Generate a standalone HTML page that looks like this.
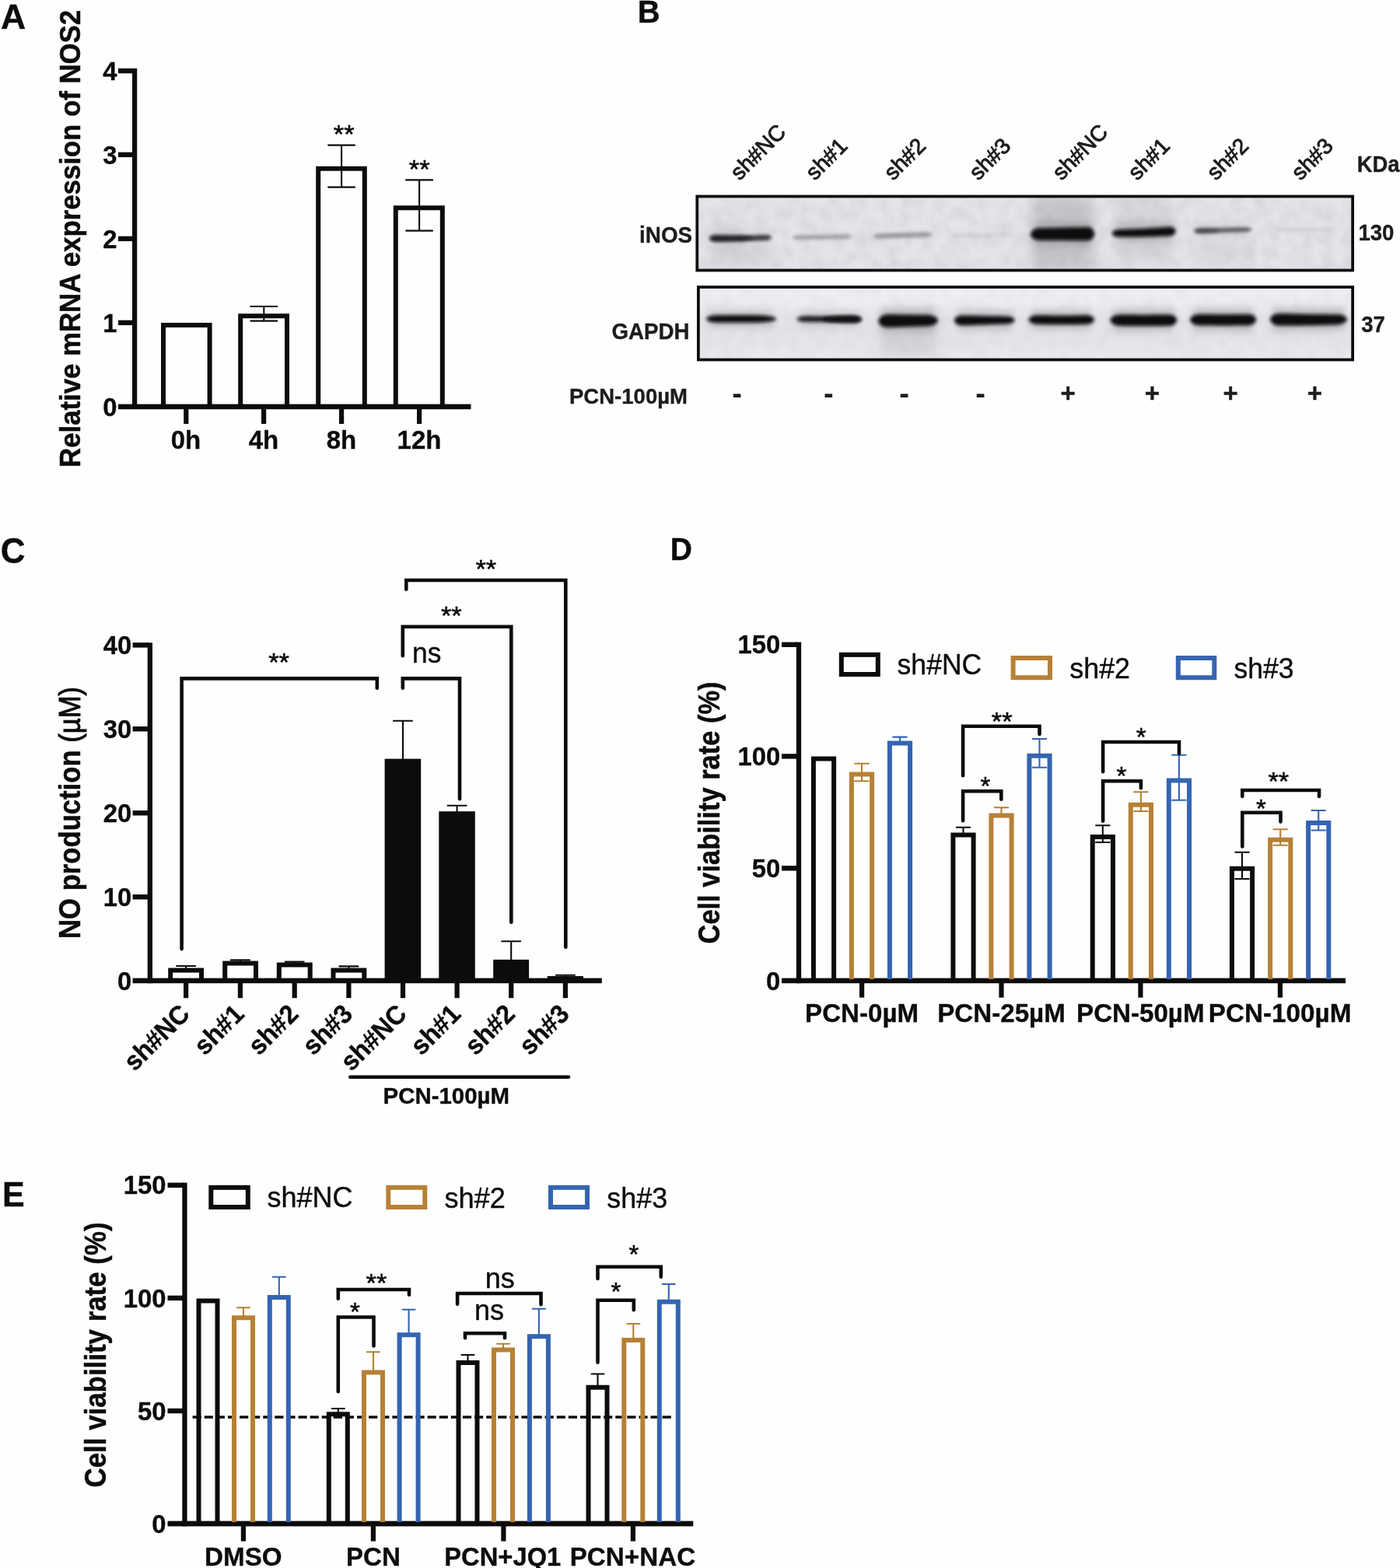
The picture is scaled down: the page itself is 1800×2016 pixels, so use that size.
<!DOCTYPE html>
<html lang="en">
<head>
<meta charset="utf-8">
<title>Figure: iNOS knockdown, NO production and cell viability</title>
<style>
html,body{margin:0;padding:0;background:#fefefe;}
body{width:1800px;height:2016px;overflow:hidden;}
svg{display:block;position:absolute;left:0;top:0;}
svg text{font-family:"Liberation Sans",sans-serif;}
</style>
</head>
<body>
<svg fill="#0d0c0b" width="1800" height="2016" viewBox="0 0 1800 2016" shape-rendering="geometricPrecision">
<rect x="0" y="0" width="1800" height="2016" fill="#fefefe"/>
<text font-size="45" font-weight="bold" textLength="32.2" lengthAdjust="spacingAndGlyphs" stroke="#0d0c0b" stroke-width="0.35" x="0.9" y="37">A</text>
<text font-size="40" font-weight="bold" stroke="#0d0c0b" stroke-width="0.35" x="819.8" y="29.2">B</text>
<text font-size="46.5" font-weight="bold" textLength="31.78" lengthAdjust="spacingAndGlyphs" stroke="#0d0c0b" stroke-width="0.35" x="0.8" y="724.3">C</text>
<text font-size="40.5" font-weight="bold" textLength="28.17" lengthAdjust="spacingAndGlyphs" stroke="#0d0c0b" stroke-width="0.35" x="861.8" y="720.3">D</text>
<text font-size="44.5" font-weight="bold" textLength="28.68" lengthAdjust="spacingAndGlyphs" stroke="#0d0c0b" stroke-width="0.35" x="3" y="1550.7">E</text>
<g id="panelA">
<rect x="170" y="88" width="6.25" height="438" fill="#0d0c0b"/>
<rect x="152" y="519.6" width="453.5" height="6.6" fill="#0d0c0b"/>
<rect x="152" y="87.9" width="20" height="6.4" fill="#0d0c0b"/>
<rect x="152" y="195.7" width="20" height="6.4" fill="#0d0c0b"/>
<rect x="152" y="303.7" width="20" height="6.4" fill="#0d0c0b"/>
<rect x="152" y="411.7" width="20" height="6.4" fill="#0d0c0b"/>
<rect x="236.2" y="525" width="6.2" height="20" fill="#0d0c0b"/>
<rect x="336" y="525" width="6.2" height="20" fill="#0d0c0b"/>
<rect x="436" y="525" width="6.2" height="20" fill="#0d0c0b"/>
<rect x="536" y="525" width="6.2" height="20" fill="#0d0c0b"/>
<text font-size="34" font-weight="bold" text-anchor="end" textLength="18.24" lengthAdjust="spacingAndGlyphs" stroke="#0d0c0b" stroke-width="0.35" x="150.6" y="102.7">4</text>
<text font-size="34" font-weight="bold" text-anchor="end" textLength="18.24" lengthAdjust="spacingAndGlyphs" stroke="#0d0c0b" stroke-width="0.35" x="150.6" y="210.5">3</text>
<text font-size="34" font-weight="bold" text-anchor="end" textLength="18.24" lengthAdjust="spacingAndGlyphs" stroke="#0d0c0b" stroke-width="0.35" x="150.6" y="318.5">2</text>
<text font-size="34" font-weight="bold" text-anchor="end" textLength="18.24" lengthAdjust="spacingAndGlyphs" stroke="#0d0c0b" stroke-width="0.35" x="150.6" y="426.5">1</text>
<text font-size="34" font-weight="bold" text-anchor="end" textLength="18.24" lengthAdjust="spacingAndGlyphs" stroke="#0d0c0b" stroke-width="0.35" x="150.6" y="534.5">0</text>
<text font-size="34" font-weight="bold" text-anchor="middle" textLength="38.51" lengthAdjust="spacingAndGlyphs" stroke="#0d0c0b" stroke-width="0.35" x="239" y="576.6">0h</text>
<text font-size="34" font-weight="bold" text-anchor="middle" textLength="38.51" lengthAdjust="spacingAndGlyphs" stroke="#0d0c0b" stroke-width="0.35" x="339" y="576.6">4h</text>
<text font-size="34" font-weight="bold" text-anchor="middle" textLength="38.51" lengthAdjust="spacingAndGlyphs" stroke="#0d0c0b" stroke-width="0.35" x="439" y="576.6">8h</text>
<text font-size="34" font-weight="bold" text-anchor="middle" textLength="56.87" lengthAdjust="spacingAndGlyphs" stroke="#0d0c0b" stroke-width="0.35" x="539" y="576.6">12h</text>
<text font-size="37" font-weight="bold" text-anchor="middle" textLength="588" lengthAdjust="spacingAndGlyphs" stroke="#0d0c0b" stroke-width="0.5" transform="translate(102.5 306.9) rotate(-90)">Relative mRNA expression of NOS2</text>
<path d="M210 521V418H269.6V521" fill="none" stroke="#0d0c0b" stroke-width="6"/>
<path d="M309.2 521V406.2H369V521" fill="none" stroke="#0d0c0b" stroke-width="6"/>
<path d="M409.2 521V216.7H468.8V521" fill="none" stroke="#0d0c0b" stroke-width="6"/>
<path d="M508.8 521V267.2H568.8V521" fill="none" stroke="#0d0c0b" stroke-width="6"/>
<path d="M322.3 394H356.3M339.3 394V412.6M322.3 412.6H356.3" fill="none" stroke="#0d0c0b" stroke-width="2.1" stroke-linecap="round"/>
<path d="M422.1 186.6H456.1M439.1 186.6V240.6M422.1 240.6H456.1" fill="none" stroke="#0d0c0b" stroke-width="2.1" stroke-linecap="round"/>
<path d="M522.1 231.4H556.1M539.1 231.4V296.6M522.1 296.6H556.1" fill="none" stroke="#0d0c0b" stroke-width="2.1" stroke-linecap="round"/>
<text font-size="33" text-anchor="middle" textLength="26.85" lengthAdjust="spacingAndGlyphs" stroke="#0d0c0b" stroke-width="0.5" x="442.2" y="183.57">**</text>
<text font-size="33" text-anchor="middle" textLength="26.85" lengthAdjust="spacingAndGlyphs" stroke="#0d0c0b" stroke-width="0.5" x="539.2" y="229.37">**</text>
</g>
<g id="panelB">
<defs>
<filter id="b1" filterUnits="userSpaceOnUse" x="880" y="240" width="880" height="240"><feGaussianBlur stdDeviation="2.2 2.0"/></filter>
<filter id="b2" filterUnits="userSpaceOnUse" x="880" y="240" width="880" height="240"><feGaussianBlur stdDeviation="2.6 2.3"/></filter>
<filter id="b4" filterUnits="userSpaceOnUse" x="880" y="240" width="880" height="240"><feGaussianBlur stdDeviation="4.5 5.5"/></filter>
<filter id="b3" filterUnits="userSpaceOnUse" x="880" y="240" width="880" height="240"><feGaussianBlur stdDeviation="8 10"/></filter>
<filter id="nz" filterUnits="userSpaceOnUse" x="890" y="245" width="860" height="225"><feTurbulence type="fractalNoise" baseFrequency="0.07 0.06" numOctaves="2" seed="11" result="t"/><feColorMatrix in="t" type="matrix" values="0 0 0 0 0.5  0 0 0 0 0.5  0 0 0 0 0.55  1.5 0 0 0 -0.5"/><feGaussianBlur stdDeviation="1.6"/></filter>
<linearGradient id="g2" x1="0" y1="0" x2="0" y2="1"><stop offset="0" stop-color="#f1f1f5"/><stop offset="0.22" stop-color="#eeeef2"/><stop offset="0.45" stop-color="#e3e3e8"/><stop offset="0.75" stop-color="#e6e6ea"/><stop offset="1" stop-color="#ebebef"/></linearGradient>
<clipPath id="c1"><rect x="897.6" y="254" width="840" height="92"/></clipPath>
<clipPath id="c2"><rect x="899.2" y="370.4" width="838.4" height="90.6"/></clipPath>
</defs>
<rect x="896" y="252" width="843.5" height="96" fill="#e4e4e9"/>
<g clip-path="url(#c1)">
<rect x="896" y="252" width="843.5" height="96" fill="#000" filter="url(#nz)" opacity="0.42"/>
<rect x="1327" y="250" width="78" height="100" fill="#9a9aa0" opacity="0.42" filter="url(#b3)"/>
<rect x="1436" y="256" width="72" height="80" fill="#a4a4aa" opacity="0.22" filter="url(#b3)"/>
<rect x="916" y="296" width="70" height="50" fill="#a4a4aa" opacity="0.2" filter="url(#b3)"/>
<rect x="1540" y="300" width="64" height="44" fill="#a4a4aa" opacity="0.12" filter="url(#b3)"/>
<rect x="1330" y="285.9" width="73" height="30" fill="#88888e" opacity="0.5" filter="url(#b4)"/>
<rect x="1435" y="286.5" width="72" height="24" fill="#88888e" opacity="0.42" filter="url(#b4)"/>
<rect x="917" y="299" width="39" height="14" fill="#88888e" opacity="0.3" filter="url(#b4)"/>
<rect x="1540" y="290" width="64" height="12" fill="#88888e" opacity="0.2" filter="url(#b4)"/>
<path d="M912.5 306.8L915.54 304.56L918.58 304.16L921.62 304.18L924.65 304.22L927.69 304.25L930.73 304.27L933.77 304.28L936.81 304.27L939.85 304.26L942.88 304.24L945.92 304.2L948.96 304.16L952 304.1L955.04 304.03L958.08 303.96L961.12 303.87L964.15 303.77L967.19 303.66L970.23 303.54L973.27 303.41L976.31 303.27L979.35 303.11L982.38 302.95L985.42 302.8L988.46 303.09L991.5 305.2L991.5 305.2L988.46 307.7L985.42 308.35L982.38 308.55L979.35 308.71L976.31 308.87L973.27 309.01L970.23 309.14L967.19 309.26L964.15 309.37L961.12 309.47L958.08 309.56L955.04 309.63L952 309.7L948.96 309.76L945.92 309.8L942.88 309.84L939.85 309.86L936.81 309.87L933.77 309.88L930.73 309.87L927.69 309.85L924.65 309.82L921.62 309.78L918.58 309.71L915.54 309.18L912.5 306.8Z" fill="#242426" opacity="0.82" filter="url(#b1)"/>
<path d="M911.5 306.2L913.67 303.53L915.85 302.69L918.02 302.26L920.19 302.1L922.37 302.12L924.54 302.14L926.71 302.16L928.88 302.2L931.06 302.24L933.23 302.29L935.4 302.36L937.58 302.43L939.75 302.51L941.92 302.6L944.1 302.7L946.27 302.82L948.44 302.95L950.62 303.09L952.79 303.26L954.96 303.44L957.13 303.65L959.31 303.89L961.48 304.18L963.65 304.53L965.83 305L968 306.2L968 306.2L965.83 307.4L963.65 307.87L961.48 308.22L959.31 308.51L957.13 308.75L954.96 308.96L952.79 309.14L950.62 309.31L948.44 309.45L946.27 309.58L944.1 309.7L941.92 309.8L939.75 309.89L937.58 309.97L935.4 310.04L933.23 310.11L931.06 310.16L928.88 310.2L926.71 310.24L924.54 310.26L922.37 310.28L920.19 310.3L918.02 310.14L915.85 309.71L913.67 308.87L911.5 306.2Z" fill="#111112" opacity="0.72" filter="url(#b1)"/>
<path d="M946 305.2L947.79 304.23L949.58 303.84L951.37 303.56L953.15 303.33L954.94 303.14L956.73 302.97L958.52 302.83L960.31 302.7L962.1 302.59L963.88 302.49L965.67 302.4L967.46 302.32L969.25 302.25L971.04 302.19L972.83 302.14L974.62 302.1L976.4 302.06L978.19 302.04L979.98 302.02L981.77 302.01L983.56 302L985.35 302.02L987.13 302.18L988.92 302.53L990.71 303.18L992.5 305.2L992.5 305.2L990.71 307.22L988.92 307.87L987.13 308.22L985.35 308.38L983.56 308.4L981.77 308.39L979.98 308.38L978.19 308.36L976.4 308.34L974.62 308.3L972.83 308.26L971.04 308.21L969.25 308.15L967.46 308.08L965.67 308L963.88 307.91L962.1 307.81L960.31 307.7L958.52 307.57L956.73 307.43L954.94 307.26L953.15 307.07L951.37 306.84L949.58 306.56L947.79 306.17L946 305.2Z" fill="#1c1c1e" opacity="0.42" filter="url(#b1)"/>
<path d="M1018.5 305.5L1021.44 303.08L1024.38 302.53L1027.33 302.44L1030.27 302.38L1033.21 302.33L1036.15 302.28L1039.1 302.22L1042.04 302.17L1044.98 302.12L1047.92 302.06L1050.87 302.01L1053.81 301.95L1056.75 301.9L1059.69 301.85L1062.63 301.79L1065.58 301.74L1068.52 301.68L1071.46 301.63L1074.4 301.58L1077.35 301.52L1080.29 301.47L1083.23 301.42L1086.17 301.36L1089.12 301.34L1092.06 301.79L1095 304.1L1095 304.1L1092.06 306.52L1089.12 307.07L1086.17 307.16L1083.23 307.22L1080.29 307.27L1077.35 307.32L1074.4 307.38L1071.46 307.43L1068.52 307.48L1065.58 307.54L1062.63 307.59L1059.69 307.65L1056.75 307.7L1053.81 307.75L1050.87 307.81L1047.92 307.86L1044.98 307.92L1042.04 307.97L1039.1 308.02L1036.15 308.08L1033.21 308.13L1030.27 308.18L1027.33 308.24L1024.38 308.26L1021.44 307.81L1018.5 305.5Z" fill="#5e5e64" opacity="0.5" filter="url(#b2)"/>
<path d="M1122.5 303.85L1125.44 301.23L1128.38 300.6L1131.33 300.46L1134.27 300.37L1137.21 300.27L1140.15 300.17L1143.1 300.08L1146.04 299.98L1148.98 299.88L1151.92 299.79L1154.87 299.69L1157.81 299.6L1160.75 299.5L1163.69 299.4L1166.63 299.31L1169.58 299.21L1172.52 299.12L1175.46 299.02L1178.4 298.92L1181.35 298.83L1184.29 298.73L1187.23 298.63L1190.17 298.54L1193.12 298.48L1196.06 298.92L1199 301.35L1199 301.35L1196.06 303.97L1193.12 304.6L1190.17 304.74L1187.23 304.83L1184.29 304.93L1181.35 305.03L1178.4 305.12L1175.46 305.22L1172.52 305.32L1169.58 305.41L1166.63 305.51L1163.69 305.6L1160.75 305.7L1157.81 305.8L1154.87 305.89L1151.92 305.99L1148.98 306.08L1146.04 306.18L1143.1 306.28L1140.15 306.37L1137.21 306.47L1134.27 306.57L1131.33 306.66L1128.38 306.72L1125.44 306.28L1122.5 303.85Z" fill="#5a5a60" opacity="0.55" filter="url(#b2)"/>
<path d="M1223 302.3L1226.15 300.42L1229.31 300.06L1232.46 300.05L1235.62 300.05L1238.77 300.05L1241.92 300.05L1245.08 300.05L1248.23 300.05L1251.38 300.05L1254.54 300.05L1257.69 300.05L1260.85 300.05L1264 300.05L1267.15 300.05L1270.31 300.05L1273.46 300.05L1276.62 300.05L1279.77 300.05L1282.92 300.05L1286.08 300.05L1289.23 300.05L1292.38 300.05L1295.54 300.05L1298.69 300.06L1301.85 300.42L1305 302.3L1305 302.3L1301.85 304.18L1298.69 304.54L1295.54 304.55L1292.38 304.55L1289.23 304.55L1286.08 304.55L1282.92 304.55L1279.77 304.55L1276.62 304.55L1273.46 304.55L1270.31 304.55L1267.15 304.55L1264 304.55L1260.85 304.55L1257.69 304.55L1254.54 304.55L1251.38 304.55L1248.23 304.55L1245.08 304.55L1241.92 304.55L1238.77 304.55L1235.62 304.55L1232.46 304.55L1229.31 304.54L1226.15 304.18L1223 302.3Z" fill="#77777c" opacity="0.17" filter="url(#b2)"/>
<path d="M1324.5 301.2L1327.69 295.97L1330.88 294.34L1334.08 293.53L1337.27 293.31L1340.46 293.24L1343.65 293.17L1346.85 293.1L1350.04 293.04L1353.23 292.97L1356.42 292.9L1359.62 292.83L1362.81 292.77L1366 292.7L1369.19 292.63L1372.38 292.57L1375.58 292.5L1378.77 292.43L1381.96 292.36L1385.15 292.3L1388.35 292.23L1391.54 292.16L1394.73 292.09L1397.92 292.03L1401.12 292.34L1404.31 293.95L1407.5 300.6L1407.5 300.6L1404.31 307.29L1401.12 308.96L1397.92 309.31L1394.73 309.29L1391.54 309.27L1388.35 309.25L1385.15 309.23L1381.96 309.21L1378.77 309.18L1375.58 309.16L1372.38 309.14L1369.19 309.12L1366 309.1L1362.81 309.08L1359.62 309.06L1356.42 309.04L1353.23 309.02L1350.04 308.99L1346.85 308.97L1343.65 308.95L1340.46 308.93L1337.27 308.91L1334.08 308.73L1330.88 307.97L1327.69 306.39L1324.5 301.2Z" fill="#0b0a0a" opacity="1" filter="url(#b1)"/>
<path d="M1429 300L1432.19 296.54L1435.38 295.53L1438.58 295.13L1441.77 295.04L1444.96 294.95L1448.15 294.85L1451.35 294.74L1454.54 294.62L1457.73 294.49L1460.92 294.36L1464.12 294.21L1467.31 294.06L1470.5 293.9L1473.69 293.73L1476.88 293.55L1480.08 293.37L1483.27 293.18L1486.46 292.97L1489.65 292.77L1492.85 292.55L1496.04 292.32L1499.23 292.09L1502.42 291.84L1505.62 291.71L1508.81 292.51L1512 297L1512 297L1508.81 301.92L1505.62 303.15L1502.42 303.42L1499.23 303.57L1496.04 303.7L1492.85 303.83L1489.65 303.95L1486.46 304.06L1483.27 304.17L1480.08 304.26L1476.88 304.35L1473.69 304.43L1470.5 304.5L1467.31 304.56L1464.12 304.62L1460.92 304.66L1457.73 304.7L1454.54 304.73L1451.35 304.75L1448.15 304.76L1444.96 304.77L1441.77 304.76L1438.58 304.75L1435.38 304.41L1432.19 303.44L1429 300Z" fill="#0b0a0a" opacity="1" filter="url(#b1)"/>
<path d="M1534.5 296.95L1537.38 294.69L1540.27 294.15L1543.15 294.03L1546.04 293.96L1548.92 293.88L1551.81 293.81L1554.69 293.74L1557.58 293.67L1560.46 293.59L1563.35 293.52L1566.23 293.45L1569.12 293.37L1572 293.3L1574.88 293.23L1577.77 293.15L1580.65 293.08L1583.54 293.01L1586.42 292.93L1589.31 292.86L1592.19 292.79L1595.08 292.72L1597.96 292.64L1600.85 292.57L1603.73 292.54L1606.62 292.94L1609.5 295.05L1609.5 295.05L1606.62 297.31L1603.73 297.85L1600.85 297.97L1597.96 298.04L1595.08 298.12L1592.19 298.19L1589.31 298.26L1586.42 298.33L1583.54 298.41L1580.65 298.48L1577.77 298.55L1574.88 298.63L1572 298.7L1569.12 298.77L1566.23 298.85L1563.35 298.92L1560.46 298.99L1557.58 299.07L1554.69 299.14L1551.81 299.21L1548.92 299.28L1546.04 299.36L1543.15 299.43L1540.27 299.46L1537.38 299.06L1534.5 296.95Z" fill="#2a2a2e" opacity="0.74" filter="url(#b1)"/>
<path d="M1536 296.9L1537.23 295.19L1538.46 294.59L1539.69 294.2L1540.92 293.95L1542.15 293.79L1543.38 293.71L1544.62 293.7L1545.85 293.7L1547.08 293.7L1548.31 293.7L1549.54 293.71L1550.77 293.73L1552 293.76L1553.23 293.81L1554.46 293.87L1555.69 293.95L1556.92 294.04L1558.15 294.14L1559.38 294.27L1560.62 294.42L1561.85 294.59L1563.08 294.8L1564.31 295.05L1565.54 295.36L1566.77 295.79L1568 296.9L1568 296.9L1566.77 298.01L1565.54 298.44L1564.31 298.75L1563.08 299L1561.85 299.21L1560.62 299.38L1559.38 299.53L1558.15 299.66L1556.92 299.76L1555.69 299.85L1554.46 299.93L1553.23 299.99L1552 300.04L1550.77 300.07L1549.54 300.09L1548.31 300.1L1547.08 300.1L1545.85 300.1L1544.62 300.1L1543.38 300.09L1542.15 300.01L1540.92 299.85L1539.69 299.6L1538.46 299.21L1537.23 298.61L1536 296.9Z" fill="#1a1a1c" opacity="0.4" filter="url(#b1)"/>
<path d="M1637.5 295.6L1640.52 293.75L1643.54 293.37L1646.56 293.35L1649.58 293.35L1652.6 293.35L1655.62 293.35L1658.63 293.35L1661.65 293.35L1664.67 293.35L1667.69 293.35L1670.71 293.35L1673.73 293.35L1676.75 293.35L1679.77 293.35L1682.79 293.35L1685.81 293.35L1688.83 293.35L1691.85 293.35L1694.87 293.35L1697.88 293.35L1700.9 293.35L1703.92 293.35L1706.94 293.35L1709.96 293.37L1712.98 293.75L1716 295.6L1716 295.6L1712.98 297.45L1709.96 297.83L1706.94 297.85L1703.92 297.85L1700.9 297.85L1697.88 297.85L1694.87 297.85L1691.85 297.85L1688.83 297.85L1685.81 297.85L1682.79 297.85L1679.77 297.85L1676.75 297.85L1673.73 297.85L1670.71 297.85L1667.69 297.85L1664.67 297.85L1661.65 297.85L1658.63 297.85L1655.62 297.85L1652.6 297.85L1649.58 297.85L1646.56 297.85L1643.54 297.83L1640.52 297.45L1637.5 295.6Z" fill="#77777c" opacity="0.16" filter="url(#b2)"/>
</g>
<rect x="896.28" y="252.5" width="842.85" height="95.05" fill="none" stroke="#0d0c0b" stroke-width="3.75"/>
<rect x="897.6" y="369" width="841.9" height="94" fill="url(#g2)"/>
<g clip-path="url(#c2)">
<rect x="897.6" y="369" width="841.9" height="94" fill="#000" filter="url(#nz)" opacity="0.2"/>
<rect x="1132" y="400" width="72" height="60" fill="#a8a8ae" opacity="0.3" filter="url(#b3)"/>
<rect x="912" y="400" width="82" height="20" fill="#88888e" opacity="0.4" filter="url(#b4)"/>
<rect x="1029" y="401.3" width="75" height="18" fill="#88888e" opacity="0.36" filter="url(#b4)"/>
<rect x="1134" y="398.4" width="68" height="28" fill="#88888e" opacity="0.5" filter="url(#b4)"/>
<rect x="1231" y="399.8" width="70" height="24" fill="#88888e" opacity="0.45" filter="url(#b4)"/>
<rect x="1326" y="399" width="77" height="24" fill="#88888e" opacity="0.45" filter="url(#b4)"/>
<rect x="1431" y="398" width="78" height="27" fill="#88888e" opacity="0.5" filter="url(#b4)"/>
<rect x="1534" y="397.5" width="77" height="27" fill="#88888e" opacity="0.5" filter="url(#b4)"/>
<rect x="1637" y="397.1" width="91" height="27" fill="#88888e" opacity="0.5" filter="url(#b4)"/>
<path d="M907.5 410L911 407.07L914.5 406.11L918 405.59L921.5 405.34L925 405.3L928.5 405.3L932 405.3L935.5 405.3L939 405.3L942.5 405.3L946 405.3L949.5 405.3L953 405.3L956.5 405.3L960 405.3L963.5 405.3L967 405.3L970.5 405.31L974 405.38L977.5 405.52L981 405.73L984.5 406.02L988 406.43L991.5 406.98L995 407.8L998.5 410L998.5 410L995 412.2L991.5 413.02L988 413.57L984.5 413.98L981 414.27L977.5 414.48L974 414.62L970.5 414.69L967 414.7L963.5 414.7L960 414.7L956.5 414.7L953 414.7L949.5 414.7L946 414.7L942.5 414.7L939 414.7L935.5 414.7L932 414.7L928.5 414.7L925 414.7L921.5 414.66L918 414.41L914.5 413.89L911 412.93L907.5 410Z" fill="#0b0a0a" opacity="1" filter="url(#b1)"/>
<path d="M1024 410.15L1027.25 407.86L1030.5 407.13L1033.75 406.75L1037 406.61L1040.25 406.61L1043.5 406.62L1046.75 406.63L1050 406.64L1053.25 406.65L1056.5 406.67L1059.75 406.68L1063 406.69L1066.25 406.7L1069.5 406.71L1072.75 406.72L1076 406.73L1079.25 406.75L1082.5 406.76L1085.75 406.77L1089 406.78L1092.25 406.79L1095.5 406.8L1098.75 406.88L1102 407.23L1105.25 407.97L1108.5 410.45L1108.5 410.45L1105.25 412.9L1102 413.63L1098.75 413.95L1095.5 414L1092.25 413.99L1089 413.98L1085.75 413.97L1082.5 413.96L1079.25 413.95L1076 413.93L1072.75 413.92L1069.5 413.91L1066.25 413.9L1063 413.89L1059.75 413.88L1056.5 413.87L1053.25 413.85L1050 413.84L1046.75 413.83L1043.5 413.82L1040.25 413.81L1037 413.79L1033.75 413.61L1030.5 413.21L1027.25 412.47L1024 410.15Z" fill="#0b0a0a" opacity="0.95" filter="url(#b1)"/>
<path d="M1058 410.4L1059.9 408.98L1061.81 408.42L1063.71 408.01L1065.62 407.69L1067.52 407.42L1069.42 407.18L1071.33 406.99L1073.23 406.81L1075.13 406.67L1077.04 406.54L1078.94 406.43L1080.85 406.34L1082.75 406.26L1084.65 406.2L1086.56 406.16L1088.46 406.12L1090.37 406.1L1092.27 406.1L1094.17 406.1L1096.08 406.1L1097.98 406.14L1099.88 406.31L1101.79 406.63L1103.69 407.15L1105.6 407.98L1107.5 410.4L1107.5 410.4L1105.6 412.82L1103.69 413.65L1101.79 414.17L1099.88 414.49L1097.98 414.66L1096.08 414.7L1094.17 414.7L1092.27 414.7L1090.37 414.7L1088.46 414.68L1086.56 414.64L1084.65 414.6L1082.75 414.54L1080.85 414.46L1078.94 414.37L1077.04 414.26L1075.13 414.13L1073.23 413.99L1071.33 413.81L1069.42 413.62L1067.52 413.38L1065.62 413.11L1063.71 412.79L1061.81 412.38L1059.9 411.82L1058 410.4Z" fill="#0b0a0a" opacity="0.9" filter="url(#b1)"/>
<path d="M1129 412.8L1131.97 407.4L1134.95 405.71L1137.92 404.83L1140.89 404.48L1143.87 404.48L1146.84 404.52L1149.81 404.56L1152.78 404.6L1155.76 404.64L1158.73 404.68L1161.7 404.72L1164.68 404.76L1167.65 404.8L1170.62 404.84L1173.6 404.88L1176.57 404.92L1179.54 404.96L1182.52 405L1185.49 405.04L1188.46 405.08L1191.43 405.12L1194.41 405.23L1197.38 405.66L1200.35 406.48L1203.33 407.87L1206.3 412L1206.3 412L1203.33 416.19L1200.35 417.65L1197.38 418.52L1194.41 419.01L1191.43 419.19L1188.46 419.29L1185.49 419.39L1182.52 419.5L1179.54 419.6L1176.57 419.7L1173.6 419.8L1170.62 419.9L1167.65 420L1164.68 420.1L1161.7 420.2L1158.73 420.3L1155.76 420.4L1152.78 420.5L1149.81 420.61L1146.84 420.71L1143.87 420.81L1140.89 420.88L1137.92 420.59L1134.95 419.77L1131.97 418.14L1129 412.8Z" fill="#0b0a0a" opacity="1" filter="url(#b1)"/>
<path d="M1226.5 412.05L1229.52 407.47L1232.54 406.17L1235.56 405.63L1238.58 405.6L1241.6 405.66L1244.62 405.73L1247.63 405.8L1250.65 405.87L1253.67 405.93L1256.69 406L1259.71 406.07L1262.73 406.13L1265.75 406.2L1268.77 406.27L1271.79 406.33L1274.81 406.4L1277.83 406.47L1280.85 406.53L1283.87 406.6L1286.88 406.67L1289.9 406.74L1292.92 406.8L1295.94 406.89L1298.96 407.32L1301.98 408.3L1305 411.55L1305 411.55L1301.98 414.84L1298.96 415.86L1295.94 416.33L1292.92 416.45L1289.9 416.56L1286.88 416.66L1283.87 416.77L1280.85 416.87L1277.83 416.98L1274.81 417.08L1271.79 417.19L1268.77 417.29L1265.75 417.4L1262.73 417.51L1259.71 417.61L1256.69 417.72L1253.67 417.82L1250.65 417.93L1247.63 418.03L1244.62 418.14L1241.6 418.24L1238.58 418.35L1235.56 418.35L1232.54 417.86L1229.52 416.6L1226.5 412.05Z" fill="#0b0a0a" opacity="1" filter="url(#b1)"/>
<path d="M1322 410.8L1325.29 407.17L1328.58 406.08L1331.87 405.54L1335.15 405.38L1338.44 405.43L1341.73 405.5L1345.02 405.55L1348.31 405.6L1351.6 405.63L1354.88 405.66L1358.17 405.68L1361.46 405.7L1364.75 405.7L1368.04 405.7L1371.33 405.68L1374.62 405.66L1377.9 405.63L1381.19 405.6L1384.48 405.55L1387.77 405.5L1391.06 405.43L1394.35 405.36L1397.63 405.38L1400.92 405.82L1404.21 406.91L1407.5 410.8L1407.5 410.8L1404.21 414.89L1400.92 416.17L1397.63 416.79L1394.35 416.96L1391.06 417.03L1387.77 417.1L1384.48 417.15L1381.19 417.2L1377.9 417.23L1374.62 417.26L1371.33 417.28L1368.04 417.3L1364.75 417.3L1361.46 417.3L1358.17 417.28L1354.88 417.26L1351.6 417.23L1348.31 417.2L1345.02 417.15L1341.73 417.1L1338.44 417.03L1335.15 416.95L1331.87 416.63L1328.58 415.92L1325.29 414.64L1322 410.8Z" fill="#0b0a0a" opacity="1" filter="url(#b1)"/>
<path d="M1427 411.5L1430.33 406.98L1433.66 405.6L1436.99 404.9L1440.32 404.67L1443.65 404.71L1446.98 404.76L1450.32 404.79L1453.65 404.83L1456.98 404.85L1460.31 404.87L1463.64 404.89L1466.97 404.9L1470.3 404.9L1473.63 404.9L1476.96 404.89L1480.29 404.87L1483.62 404.85L1486.95 404.83L1490.28 404.79L1493.62 404.76L1496.95 404.71L1500.28 404.66L1503.61 404.63L1506.94 405.12L1510.27 406.48L1513.6 411.5L1513.6 411.5L1510.27 416.66L1506.94 418.17L1503.61 418.77L1500.28 418.86L1496.95 418.91L1493.62 418.96L1490.28 418.99L1486.95 419.03L1483.62 419.05L1480.29 419.07L1476.96 419.09L1473.63 419.1L1470.3 419.1L1466.97 419.1L1463.64 419.09L1460.31 419.07L1456.98 419.05L1453.65 419.03L1450.32 418.99L1446.98 418.96L1443.65 418.91L1440.32 418.85L1436.99 418.51L1433.66 417.69L1430.33 416.17L1427 411.5Z" fill="#0b0a0a" opacity="1" filter="url(#b1)"/>
<path d="M1529.5 411L1532.81 406.39L1536.12 405.01L1539.43 404.36L1542.75 404.21L1546.06 404.25L1549.37 404.28L1552.68 404.31L1555.99 404.34L1559.3 404.36L1562.62 404.38L1565.93 404.39L1569.24 404.4L1572.55 404.4L1575.86 404.4L1579.17 404.39L1582.48 404.38L1585.8 404.36L1589.11 404.34L1592.42 404.31L1595.73 404.28L1599.04 404.25L1602.35 404.21L1605.67 404.2L1608.98 404.69L1612.29 406.05L1615.6 411L1615.6 411L1612.29 416.07L1608.98 417.54L1605.67 418.13L1602.35 418.21L1599.04 418.25L1595.73 418.28L1592.42 418.31L1589.11 418.34L1585.8 418.36L1582.48 418.38L1579.17 418.39L1575.86 418.4L1572.55 418.4L1569.24 418.4L1565.93 418.39L1562.62 418.38L1559.3 418.36L1555.99 418.34L1552.68 418.31L1549.37 418.28L1546.06 418.25L1542.75 418.21L1539.43 417.97L1536.12 417.21L1532.81 415.73L1529.5 411Z" fill="#0b0a0a" opacity="1" filter="url(#b1)"/>
<path d="M1632.5 410.6L1636.34 405.09L1640.18 403.63L1644.03 403.14L1647.87 403.22L1651.71 403.35L1655.55 403.47L1659.4 403.58L1663.24 403.68L1667.08 403.78L1670.92 403.87L1674.77 403.95L1678.61 404.03L1682.45 404.1L1686.29 404.16L1690.13 404.22L1693.98 404.26L1697.82 404.31L1701.66 404.34L1705.5 404.37L1709.35 404.38L1713.19 404.4L1717.03 404.4L1720.87 404.5L1724.72 405.08L1728.56 406.34L1732.4 410.6L1732.4 410.6L1728.56 415.03L1724.72 416.46L1720.87 417.19L1717.03 417.42L1713.19 417.55L1709.35 417.67L1705.5 417.78L1701.66 417.88L1697.82 417.98L1693.98 418.07L1690.13 418.15L1686.29 418.23L1682.45 418.3L1678.61 418.36L1674.77 418.42L1670.92 418.46L1667.08 418.51L1663.24 418.54L1659.4 418.57L1655.55 418.58L1651.71 418.6L1647.87 418.6L1644.03 418.55L1640.18 417.91L1636.34 416.29L1632.5 410.6Z" fill="#0b0a0a" opacity="1" filter="url(#b1)"/>
</g>
<rect x="897.88" y="369.12" width="841.25" height="93.4" fill="none" stroke="#0d0c0b" stroke-width="3.75"/>
<text font-size="28.4" fill="#1d1c1b" stroke="#1d1c1b" stroke-width="0.95" transform="translate(950.7 232.9) rotate(-45)">sh#NC</text>
<text font-size="28.4" fill="#1d1c1b" stroke="#1d1c1b" stroke-width="0.95" transform="translate(1047.6 232.9) rotate(-45)">sh#1</text>
<text font-size="28.4" fill="#1d1c1b" stroke="#1d1c1b" stroke-width="0.95" transform="translate(1148.3 232.9) rotate(-45)">sh#2</text>
<text font-size="28.4" fill="#1d1c1b" stroke="#1d1c1b" stroke-width="0.95" transform="translate(1257.7 232.9) rotate(-45)">sh#3</text>
<text font-size="28.4" fill="#1d1c1b" stroke="#1d1c1b" stroke-width="0.95" transform="translate(1364.7 232.9) rotate(-45)">sh#NC</text>
<text font-size="28.4" fill="#1d1c1b" stroke="#1d1c1b" stroke-width="0.95" transform="translate(1462.1 232.9) rotate(-45)">sh#1</text>
<text font-size="28.4" fill="#1d1c1b" stroke="#1d1c1b" stroke-width="0.95" transform="translate(1563.3 232.9) rotate(-45)">sh#2</text>
<text font-size="28.4" fill="#1d1c1b" stroke="#1d1c1b" stroke-width="0.95" transform="translate(1672.1 232.9) rotate(-45)">sh#3</text>
<text font-size="29" font-weight="bold" textLength="54.81" lengthAdjust="spacingAndGlyphs" fill="#1d1c1b" stroke="#1d1c1b" stroke-width="0.35" x="1744.8" y="220.6">KDa</text>
<text font-size="29.5" font-weight="bold" textLength="46.05" lengthAdjust="spacingAndGlyphs" fill="#1d1c1b" stroke="#1d1c1b" stroke-width="0.35" x="1746.4" y="308.7">130</text>
<text font-size="29.5" font-weight="bold" textLength="30.7" lengthAdjust="spacingAndGlyphs" fill="#1d1c1b" stroke="#1d1c1b" stroke-width="0.35" x="1750.2" y="426.7">37</text>
<text font-size="29" font-weight="bold" text-anchor="end" textLength="68" lengthAdjust="spacingAndGlyphs" fill="#1d1c1b" stroke="#1d1c1b" stroke-width="0.35" x="890.1" y="312">iNOS</text>
<text font-size="29" font-weight="bold" text-anchor="end" textLength="100" lengthAdjust="spacingAndGlyphs" fill="#1d1c1b" stroke="#1d1c1b" stroke-width="0.35" x="886.4" y="436">GAPDH</text>
<text font-size="28.5" font-weight="bold" text-anchor="end" textLength="152" lengthAdjust="spacingAndGlyphs" fill="#1d1c1b" stroke="#1d1c1b" stroke-width="0.35" x="884" y="518.6">PCN-100µM</text>
<text font-size="38" font-weight="bold" text-anchor="middle" fill="#1d1c1b" x="947.7" y="519.2">-</text>
<text font-size="38" font-weight="bold" text-anchor="middle" fill="#1d1c1b" x="1065.4" y="519.2">-</text>
<text font-size="38" font-weight="bold" text-anchor="middle" fill="#1d1c1b" x="1162.5" y="519.2">-</text>
<text font-size="38" font-weight="bold" text-anchor="middle" fill="#1d1c1b" x="1260.6" y="519.2">-</text>
<text font-size="33" font-weight="bold" text-anchor="middle" fill="#1d1c1b" stroke="#1d1c1b" stroke-width="0.4" x="1373.1" y="516.7">+</text>
<text font-size="33" font-weight="bold" text-anchor="middle" fill="#1d1c1b" stroke="#1d1c1b" stroke-width="0.4" x="1481.5" y="516.7">+</text>
<text font-size="33" font-weight="bold" text-anchor="middle" fill="#1d1c1b" stroke="#1d1c1b" stroke-width="0.4" x="1582.1" y="516.7">+</text>
<text font-size="33" font-weight="bold" text-anchor="middle" fill="#1d1c1b" stroke="#1d1c1b" stroke-width="0.4" x="1690.4" y="516.7">+</text>
</g>
<g id="panelC">
<rect x="189.7" y="826.3" width="6.3" height="437.9" fill="#0d0c0b"/>
<rect x="170.6" y="1257.6" width="603.2" height="6.6" fill="#0d0c0b"/>
<rect x="170.6" y="826.2" width="20.4" height="6.4" fill="#0d0c0b"/>
<rect x="170.6" y="934" width="20.4" height="6.4" fill="#0d0c0b"/>
<rect x="170.6" y="1042.1" width="20.4" height="6.4" fill="#0d0c0b"/>
<rect x="170.6" y="1150" width="20.4" height="6.4" fill="#0d0c0b"/>
<rect x="236" y="1263" width="6.2" height="20.2" fill="#0d0c0b"/>
<rect x="305.8" y="1263" width="6.2" height="20.2" fill="#0d0c0b"/>
<rect x="375.6" y="1263" width="6.2" height="20.2" fill="#0d0c0b"/>
<rect x="445.3" y="1263" width="6.2" height="20.2" fill="#0d0c0b"/>
<rect x="514.9" y="1263" width="6.2" height="20.2" fill="#0d0c0b"/>
<rect x="584.5" y="1263" width="6.2" height="20.2" fill="#0d0c0b"/>
<rect x="654.1" y="1263" width="6.2" height="20.2" fill="#0d0c0b"/>
<rect x="723.8" y="1263" width="6.2" height="20.2" fill="#0d0c0b"/>
<text font-size="34" font-weight="bold" text-anchor="end" textLength="36.48" lengthAdjust="spacingAndGlyphs" stroke="#0d0c0b" stroke-width="0.35" x="169.2" y="841">40</text>
<text font-size="34" font-weight="bold" text-anchor="end" textLength="36.48" lengthAdjust="spacingAndGlyphs" stroke="#0d0c0b" stroke-width="0.35" x="169.2" y="948.8">30</text>
<text font-size="34" font-weight="bold" text-anchor="end" textLength="36.48" lengthAdjust="spacingAndGlyphs" stroke="#0d0c0b" stroke-width="0.35" x="169.2" y="1056.9">20</text>
<text font-size="34" font-weight="bold" text-anchor="end" textLength="36.48" lengthAdjust="spacingAndGlyphs" stroke="#0d0c0b" stroke-width="0.35" x="169.2" y="1164.8">10</text>
<text font-size="34" font-weight="bold" text-anchor="end" textLength="18.24" lengthAdjust="spacingAndGlyphs" stroke="#0d0c0b" stroke-width="0.35" x="169.2" y="1272.6">0</text>
<text transform="translate(102.5 1044.9) rotate(-90)" font-size="38" font-weight="bold" text-anchor="middle" textLength="324" lengthAdjust="spacingAndGlyphs" stroke="#0d0c0b" stroke-width="0.5">NO production <tspan font-weight="normal" stroke-width="1">(µM)</tspan></text>
<path d="M219.2 1259V1247.4H259V1259" fill="none" stroke="#0d0c0b" stroke-width="6"/>
<path d="M289.2 1259V1238.4H329V1259" fill="none" stroke="#0d0c0b" stroke-width="6"/>
<path d="M358.8 1259V1240.4H398.7V1259" fill="none" stroke="#0d0c0b" stroke-width="6"/>
<path d="M428.5 1259V1247.4H468.3V1259" fill="none" stroke="#0d0c0b" stroke-width="6"/>
<rect x="494.6" y="975.6" width="46.6" height="283.4" fill="#0d0c0b"/>
<rect x="564.3" y="1043.2" width="46.5" height="215.8" fill="#0d0c0b"/>
<rect x="634.2" y="1233.8" width="45.9" height="25.2" fill="#0d0c0b"/>
<rect x="703.8" y="1255" width="46.2" height="4" fill="#0d0c0b"/>
<path d="M227.1 1242H251.1M239.1 1242V1246" fill="none" stroke="#0d0c0b" stroke-width="2.1" stroke-linecap="round"/>
<path d="M296.9 1234.4H320.9M308.9 1234.4V1238" fill="none" stroke="#0d0c0b" stroke-width="2.1" stroke-linecap="round"/>
<path d="M366.7 1236.6H390.7M378.7 1236.6V1240" fill="none" stroke="#0d0c0b" stroke-width="2.1" stroke-linecap="round"/>
<path d="M436.4 1242.4H460.4M448.4 1242.4V1246" fill="none" stroke="#0d0c0b" stroke-width="2.1" stroke-linecap="round"/>
<path d="M506 926.8H530M518 926.8V976" fill="none" stroke="#0d0c0b" stroke-width="2.1" stroke-linecap="round"/>
<path d="M575.6 1035.8H599.6M587.6 1035.8V1044" fill="none" stroke="#0d0c0b" stroke-width="2.1" stroke-linecap="round"/>
<path d="M645.2 1210.3H669.2M657.2 1210.3V1234" fill="none" stroke="#0d0c0b" stroke-width="2.1" stroke-linecap="round"/>
<path d="M714.9 1253.8H738.9M726.9 1253.8V1256" fill="none" stroke="#0d0c0b" stroke-width="2.1" stroke-linecap="round"/>
<path d="M233.6 1220.1V872.4H484.8V884.7" fill="none" stroke="#0d0c0b" stroke-width="4.6" stroke-linecap="round" stroke-linejoin="miter"/>
<path d="M517.8 884.7V872.4H591V1027.2" fill="none" stroke="#0d0c0b" stroke-width="4.6" stroke-linecap="round" stroke-linejoin="miter"/>
<path d="M517.8 843.2V805.8H657.3V1185.7" fill="none" stroke="#0d0c0b" stroke-width="4.6" stroke-linecap="round" stroke-linejoin="miter"/>
<path d="M522.3 757.7V746H727.3V1217.7" fill="none" stroke="#0d0c0b" stroke-width="4.6" stroke-linecap="round" stroke-linejoin="miter"/>
<text font-size="33" text-anchor="middle" textLength="26.85" lengthAdjust="spacingAndGlyphs" stroke="#0d0c0b" stroke-width="0.5" x="358.6" y="863.07">**</text>
<text font-size="33" text-anchor="middle" textLength="26.85" lengthAdjust="spacingAndGlyphs" stroke="#0d0c0b" stroke-width="0.5" x="580.3" y="803.07">**</text>
<text font-size="33" text-anchor="middle" textLength="26.85" lengthAdjust="spacingAndGlyphs" stroke="#0d0c0b" stroke-width="0.5" x="624.8" y="743.07">**</text>
<text font-size="36" textLength="37.3" lengthAdjust="spacingAndGlyphs" stroke="#0d0c0b" stroke-width="0.4" x="530.1" y="852.4">ns</text>
<text font-size="34" font-weight="bold" text-anchor="end" textLength="103.26" lengthAdjust="spacingAndGlyphs" stroke="#0d0c0b" stroke-width="0.35" transform="translate(245.9 1305.6) rotate(-45)">sh#NC</text>
<text font-size="34" font-weight="bold" text-anchor="end" textLength="74.31" lengthAdjust="spacingAndGlyphs" stroke="#0d0c0b" stroke-width="0.35" transform="translate(315.7 1305.6) rotate(-45)">sh#1</text>
<text font-size="34" font-weight="bold" text-anchor="end" textLength="74.31" lengthAdjust="spacingAndGlyphs" stroke="#0d0c0b" stroke-width="0.35" transform="translate(385.5 1305.6) rotate(-45)">sh#2</text>
<text font-size="34" font-weight="bold" text-anchor="end" textLength="74.31" lengthAdjust="spacingAndGlyphs" stroke="#0d0c0b" stroke-width="0.35" transform="translate(455.2 1305.6) rotate(-45)">sh#3</text>
<text font-size="34" font-weight="bold" text-anchor="end" textLength="103.26" lengthAdjust="spacingAndGlyphs" stroke="#0d0c0b" stroke-width="0.35" transform="translate(524.8 1305.6) rotate(-45)">sh#NC</text>
<text font-size="34" font-weight="bold" text-anchor="end" textLength="74.31" lengthAdjust="spacingAndGlyphs" stroke="#0d0c0b" stroke-width="0.35" transform="translate(594.4 1305.6) rotate(-45)">sh#1</text>
<text font-size="34" font-weight="bold" text-anchor="end" textLength="74.31" lengthAdjust="spacingAndGlyphs" stroke="#0d0c0b" stroke-width="0.35" transform="translate(664 1305.6) rotate(-45)">sh#2</text>
<text font-size="34" font-weight="bold" text-anchor="end" textLength="74.31" lengthAdjust="spacingAndGlyphs" stroke="#0d0c0b" stroke-width="0.35" transform="translate(733.7 1305.6) rotate(-45)">sh#3</text>
<path d="M450.3 1384.8H731" stroke="#0d0c0b" stroke-width="4.6" stroke-linecap="round"/>
<text font-size="29" font-weight="bold" text-anchor="middle" textLength="162.5" lengthAdjust="spacingAndGlyphs" stroke="#0d0c0b" stroke-width="0.35" x="573.8" y="1418.7">PCN-100µM</text>
</g>
<g id="panelD">
<rect x="1023.8" y="825.6" width="6.3" height="438.6" fill="#0d0c0b"/>
<rect x="1005" y="1257.6" width="725" height="6.6" fill="#0d0c0b"/>
<rect x="1005" y="825.6" width="20" height="6.4" fill="#0d0c0b"/>
<rect x="1005" y="969.2" width="20" height="6.4" fill="#0d0c0b"/>
<rect x="1005" y="1113.1" width="20" height="6.4" fill="#0d0c0b"/>
<rect x="1105" y="1263" width="6.2" height="19.6" fill="#0d0c0b"/>
<rect x="1284.4" y="1263" width="6.2" height="19.6" fill="#0d0c0b"/>
<rect x="1463.3" y="1263" width="6.2" height="19.6" fill="#0d0c0b"/>
<rect x="1642.8" y="1263" width="6.2" height="19.6" fill="#0d0c0b"/>
<text font-size="34" font-weight="bold" text-anchor="end" textLength="54.73" lengthAdjust="spacingAndGlyphs" stroke="#0d0c0b" stroke-width="0.35" x="1003.2" y="840.4">150</text>
<text font-size="34" font-weight="bold" text-anchor="end" textLength="54.73" lengthAdjust="spacingAndGlyphs" stroke="#0d0c0b" stroke-width="0.35" x="1003.2" y="984">100</text>
<text font-size="34" font-weight="bold" text-anchor="end" textLength="36.48" lengthAdjust="spacingAndGlyphs" stroke="#0d0c0b" stroke-width="0.35" x="1003.2" y="1127.9">50</text>
<text font-size="34" font-weight="bold" text-anchor="end" textLength="18.24" lengthAdjust="spacingAndGlyphs" stroke="#0d0c0b" stroke-width="0.35" x="1003.2" y="1272.6">0</text>
<text font-size="38" font-weight="bold" text-anchor="middle" textLength="337" lengthAdjust="spacingAndGlyphs" stroke="#0d0c0b" stroke-width="0.5" transform="translate(924.5 1045) rotate(-90)">Cell viability rate (%)</text>
<rect x="1081.8" y="841.8" width="47" height="25.2" fill="none" stroke="#0d0c0b" stroke-width="6"/>
<text font-size="36" textLength="108.7" lengthAdjust="spacingAndGlyphs" stroke="#0d0c0b" stroke-width="0.4" x="1153.6" y="867.4">sh#NC</text>
<rect x="1302.6" y="846" width="47.4" height="25.2" fill="none" stroke="#b68136" stroke-width="6"/>
<text font-size="36" textLength="77.7" lengthAdjust="spacingAndGlyphs" stroke="#0d0c0b" stroke-width="0.4" x="1375.3" y="872.3">sh#2</text>
<rect x="1514.8" y="846" width="46.5" height="25.2" fill="none" stroke="#3564b1" stroke-width="6"/>
<text font-size="36" textLength="76.9" lengthAdjust="spacingAndGlyphs" stroke="#0d0c0b" stroke-width="0.4" x="1586.6" y="872.3">sh#3</text>
<path d="M1045.9 1259V975.5H1072.1V1259" fill="none" stroke="#0d0c0b" stroke-width="6"/>
<path d="M1094.9 1259V995.5H1121.1V1259" fill="none" stroke="#b68136" stroke-width="6"/>
<path d="M1099.25 981.8H1116.75M1108 981.8V1004.2M1099.25 1004.2H1116.75" fill="none" stroke="#b68136" stroke-width="2.1" stroke-linecap="round"/>
<path d="M1143.9 1259V955.6H1170.1V1259" fill="none" stroke="#3564b1" stroke-width="6"/>
<path d="M1148.25 947.6H1165.75M1157 947.6V954" fill="none" stroke="#3564b1" stroke-width="2.1" stroke-linecap="round"/>
<path d="M1225.4 1259V1073.5H1251.6V1259" fill="none" stroke="#0d0c0b" stroke-width="6"/>
<path d="M1229.75 1063.8H1247.25M1238.5 1063.8V1072" fill="none" stroke="#0d0c0b" stroke-width="2.1" stroke-linecap="round"/>
<path d="M1274.4 1259V1048.6H1300.6V1259" fill="none" stroke="#b68136" stroke-width="6"/>
<path d="M1278.75 1038.3H1296.25M1287.5 1038.3V1047" fill="none" stroke="#b68136" stroke-width="2.1" stroke-linecap="round"/>
<path d="M1323.4 1259V971.8H1349.6V1259" fill="none" stroke="#3564b1" stroke-width="6"/>
<path d="M1327.75 950H1345.25M1336.5 950V986.8M1327.75 986.8H1345.25" fill="none" stroke="#3564b1" stroke-width="2.1" stroke-linecap="round"/>
<path d="M1404.7 1259V1076H1430.9V1259" fill="none" stroke="#0d0c0b" stroke-width="6"/>
<path d="M1409.05 1061.3H1426.55M1417.8 1061.3V1083M1409.05 1083H1426.55" fill="none" stroke="#0d0c0b" stroke-width="2.1" stroke-linecap="round"/>
<path d="M1453.8 1259V1034.8H1480V1259" fill="none" stroke="#b68136" stroke-width="6"/>
<path d="M1458.15 1018.3H1475.65M1466.9 1018.3V1043M1458.15 1043H1475.65" fill="none" stroke="#b68136" stroke-width="2.1" stroke-linecap="round"/>
<path d="M1502.8 1259V1003.5H1529V1259" fill="none" stroke="#3564b1" stroke-width="6"/>
<path d="M1507.15 970.8H1524.65M1515.9 970.8V1028.8M1507.15 1028.8H1524.65" fill="none" stroke="#3564b1" stroke-width="2.1" stroke-linecap="round"/>
<path d="M1583.9 1259V1116.8H1610.1V1259" fill="none" stroke="#0d0c0b" stroke-width="6"/>
<path d="M1588.25 1095.8H1605.75M1597 1095.8V1130M1588.25 1130H1605.75" fill="none" stroke="#0d0c0b" stroke-width="2.1" stroke-linecap="round"/>
<path d="M1633.1 1259V1079.8H1659.3V1259" fill="none" stroke="#b68136" stroke-width="6"/>
<path d="M1637.45 1066.3H1654.95M1646.2 1066.3V1086.8M1637.45 1086.8H1654.95" fill="none" stroke="#b68136" stroke-width="2.1" stroke-linecap="round"/>
<path d="M1682.1 1259V1058H1708.3V1259" fill="none" stroke="#3564b1" stroke-width="6"/>
<path d="M1686.45 1042H1703.95M1695.2 1042V1067.5M1686.45 1067.5H1703.95" fill="none" stroke="#3564b1" stroke-width="2.1" stroke-linecap="round"/>
<path d="M1238.1 1055.2V1017.3H1287.3V1027.7" fill="none" stroke="#0d0c0b" stroke-width="4.6" stroke-linecap="round" stroke-linejoin="miter"/>
<path d="M1238.1 997.2V933.8H1336.5V944" fill="none" stroke="#0d0c0b" stroke-width="4.6" stroke-linecap="round" stroke-linejoin="miter"/>
<path d="M1418.1 1055.7V1004.3H1466.9V1013.2" fill="none" stroke="#0d0c0b" stroke-width="4.6" stroke-linecap="round" stroke-linejoin="miter"/>
<path d="M1418.1 992.2V954H1516V968.7" fill="none" stroke="#0d0c0b" stroke-width="4.6" stroke-linecap="round" stroke-linejoin="miter"/>
<path d="M1597.3 1088.5V1044.8H1646.5V1056.5" fill="none" stroke="#0d0c0b" stroke-width="4.6" stroke-linecap="round" stroke-linejoin="miter"/>
<path d="M1597.3 1024V1016H1696V1024" fill="none" stroke="#0d0c0b" stroke-width="4.6" stroke-linecap="round" stroke-linejoin="miter"/>
<text font-size="33" text-anchor="middle" stroke="#0d0c0b" stroke-width="0.5" x="1266.9" y="1021.87">*</text>
<text font-size="33" text-anchor="middle" textLength="26.85" lengthAdjust="spacingAndGlyphs" stroke="#0d0c0b" stroke-width="0.5" x="1288.2" y="939.07">**</text>
<text font-size="33" text-anchor="middle" stroke="#0d0c0b" stroke-width="0.5" x="1441.9" y="1008.57">*</text>
<text font-size="33" text-anchor="middle" stroke="#0d0c0b" stroke-width="0.5" x="1467.1" y="958.57">*</text>
<text font-size="33" text-anchor="middle" stroke="#0d0c0b" stroke-width="0.5" x="1621.4" y="1051.37">*</text>
<text font-size="33" text-anchor="middle" textLength="26.85" lengthAdjust="spacingAndGlyphs" stroke="#0d0c0b" stroke-width="0.5" x="1643.8" y="1015.57">**</text>
<text font-size="34" font-weight="bold" text-anchor="middle" textLength="146" lengthAdjust="spacingAndGlyphs" stroke="#0d0c0b" stroke-width="0.35" x="1108.1" y="1313.6">PCN-0µM</text>
<text font-size="34" font-weight="bold" text-anchor="middle" textLength="164.5" lengthAdjust="spacingAndGlyphs" stroke="#0d0c0b" stroke-width="0.35" x="1287.5" y="1313.6">PCN-25µM</text>
<text font-size="34" font-weight="bold" text-anchor="middle" textLength="164.5" lengthAdjust="spacingAndGlyphs" stroke="#0d0c0b" stroke-width="0.35" x="1466.3" y="1313.6">PCN-50µM</text>
<text font-size="34" font-weight="bold" text-anchor="middle" textLength="183.5" lengthAdjust="spacingAndGlyphs" stroke="#0d0c0b" stroke-width="0.35" x="1645.6" y="1313.6">PCN-100µM</text>
</g>
<g id="panelE">
<rect x="234.3" y="1520.6" width="6.3" height="441.8" fill="#0d0c0b"/>
<rect x="215.5" y="1955.6" width="675.8" height="6.8" fill="#0d0c0b"/>
<rect x="215.5" y="1520.6" width="20.5" height="6.4" fill="#0d0c0b"/>
<rect x="215.5" y="1665.7" width="20.5" height="6.4" fill="#0d0c0b"/>
<rect x="215.5" y="1810.8" width="20.5" height="6.4" fill="#0d0c0b"/>
<rect x="309.8" y="1961" width="6.2" height="20.6" fill="#0d0c0b"/>
<rect x="476.8" y="1961" width="6.2" height="20.6" fill="#0d0c0b"/>
<rect x="644.3" y="1961" width="6.2" height="20.6" fill="#0d0c0b"/>
<rect x="810.8" y="1961" width="6.2" height="20.6" fill="#0d0c0b"/>
<text font-size="34" font-weight="bold" text-anchor="end" textLength="54.73" lengthAdjust="spacingAndGlyphs" stroke="#0d0c0b" stroke-width="0.35" x="213.6" y="1535.4">150</text>
<text font-size="34" font-weight="bold" text-anchor="end" textLength="54.73" lengthAdjust="spacingAndGlyphs" stroke="#0d0c0b" stroke-width="0.35" x="213.6" y="1680.5">100</text>
<text font-size="34" font-weight="bold" text-anchor="end" textLength="36.48" lengthAdjust="spacingAndGlyphs" stroke="#0d0c0b" stroke-width="0.35" x="213.6" y="1825.6">50</text>
<text font-size="34" font-weight="bold" text-anchor="end" textLength="18.24" lengthAdjust="spacingAndGlyphs" stroke="#0d0c0b" stroke-width="0.35" x="213.6" y="1970.6">0</text>
<text font-size="38.5" font-weight="bold" text-anchor="middle" textLength="341" lengthAdjust="spacingAndGlyphs" stroke="#0d0c0b" stroke-width="0.5" transform="translate(135.6 1742) rotate(-90)">Cell viability rate (%)</text>
<rect x="271.3" y="1526.8" width="47.5" height="25.2" fill="none" stroke="#0d0c0b" stroke-width="6"/>
<text font-size="36" textLength="109.9" lengthAdjust="spacingAndGlyphs" stroke="#0d0c0b" stroke-width="0.4" x="343.6" y="1552">sh#NC</text>
<rect x="499.3" y="1526.8" width="47" height="25.2" fill="none" stroke="#b68136" stroke-width="6"/>
<text font-size="36" textLength="78.2" lengthAdjust="spacingAndGlyphs" stroke="#0d0c0b" stroke-width="0.4" x="571.6" y="1552.6">sh#2</text>
<rect x="708" y="1526.8" width="47" height="25.2" fill="none" stroke="#3564b1" stroke-width="6"/>
<text font-size="36" textLength="77.8" lengthAdjust="spacingAndGlyphs" stroke="#0d0c0b" stroke-width="0.4" x="780.3" y="1552.6">sh#3</text>
<path d="M247.6 1822H864" stroke="#0d0c0b" stroke-width="3.4" stroke-dasharray="11.2 3.9" fill="none"/>
<path d="M255.5 1957V1672.5H279.5V1957" fill="none" stroke="#0d0c0b" stroke-width="6"/>
<path d="M301 1957V1694.3H325V1957" fill="none" stroke="#b68136" stroke-width="6"/>
<path d="M305 1681.3H321M313 1681.3V1692" fill="none" stroke="#b68136" stroke-width="2.1" stroke-linecap="round"/>
<path d="M346.8 1957V1668H370.8V1957" fill="none" stroke="#3564b1" stroke-width="6"/>
<path d="M350.8 1641.8H366.8M358.8 1641.8V1666" fill="none" stroke="#3564b1" stroke-width="2.1" stroke-linecap="round"/>
<path d="M422.8 1957V1818.3H446.8V1957" fill="none" stroke="#0d0c0b" stroke-width="6"/>
<path d="M426.8 1811H442.8M434.8 1811V1816" fill="none" stroke="#0d0c0b" stroke-width="2.1" stroke-linecap="round"/>
<path d="M468 1957V1764.5H492V1957" fill="none" stroke="#b68136" stroke-width="6"/>
<path d="M472 1738.3H488M480 1738.3V1762" fill="none" stroke="#b68136" stroke-width="2.1" stroke-linecap="round"/>
<path d="M513.6 1957V1716.3H537.6V1957" fill="none" stroke="#3564b1" stroke-width="6"/>
<path d="M517.6 1683.8H533.6M525.6 1683.8V1714" fill="none" stroke="#3564b1" stroke-width="2.1" stroke-linecap="round"/>
<path d="M589.5 1957V1752H613.5V1957" fill="none" stroke="#0d0c0b" stroke-width="6"/>
<path d="M593.5 1742H609.5M601.5 1742V1750" fill="none" stroke="#0d0c0b" stroke-width="2.1" stroke-linecap="round"/>
<path d="M635 1957V1735.5H659V1957" fill="none" stroke="#b68136" stroke-width="6"/>
<path d="M639 1727.8H655M647 1727.8V1733" fill="none" stroke="#b68136" stroke-width="2.1" stroke-linecap="round"/>
<path d="M680.9 1957V1718.3H704.9V1957" fill="none" stroke="#3564b1" stroke-width="6"/>
<path d="M684.9 1682.8H700.9M692.9 1682.8V1716" fill="none" stroke="#3564b1" stroke-width="2.1" stroke-linecap="round"/>
<path d="M756.5 1957V1783.8H780.5V1957" fill="none" stroke="#0d0c0b" stroke-width="6"/>
<path d="M760.5 1766.5H776.5M768.5 1766.5V1782" fill="none" stroke="#0d0c0b" stroke-width="2.1" stroke-linecap="round"/>
<path d="M802.3 1957V1723H826.3V1957" fill="none" stroke="#b68136" stroke-width="6"/>
<path d="M806.3 1702H822.3M814.3 1702V1721" fill="none" stroke="#b68136" stroke-width="2.1" stroke-linecap="round"/>
<path d="M847.8 1957V1673.8H871.8V1957" fill="none" stroke="#3564b1" stroke-width="6"/>
<path d="M851.8 1651H867.8M859.8 1651V1672" fill="none" stroke="#3564b1" stroke-width="2.1" stroke-linecap="round"/>
<path d="M434.8 1789.2V1693.5H480.5V1730.5" fill="none" stroke="#0d0c0b" stroke-width="4.6" stroke-linecap="round" stroke-linejoin="miter"/>
<path d="M434.8 1669.7V1658H526V1664.7" fill="none" stroke="#0d0c0b" stroke-width="4.6" stroke-linecap="round" stroke-linejoin="miter"/>
<path d="M598 1720.2V1714.3H649V1720.2" fill="none" stroke="#0d0c0b" stroke-width="4.6" stroke-linecap="round" stroke-linejoin="miter"/>
<path d="M588.1 1676.7V1663H695.5V1677.2" fill="none" stroke="#0d0c0b" stroke-width="4.6" stroke-linecap="round" stroke-linejoin="miter"/>
<path d="M768.5 1751.7V1671.8H814.8V1684.2" fill="none" stroke="#0d0c0b" stroke-width="4.6" stroke-linecap="round" stroke-linejoin="miter"/>
<path d="M768.5 1644V1628.8H849.8V1641.7" fill="none" stroke="#0d0c0b" stroke-width="4.6" stroke-linecap="round" stroke-linejoin="miter"/>
<text font-size="33" text-anchor="middle" stroke="#0d0c0b" stroke-width="0.5" x="456.4" y="1697.57">*</text>
<text font-size="33" text-anchor="middle" textLength="26.85" lengthAdjust="spacingAndGlyphs" stroke="#0d0c0b" stroke-width="0.5" x="484" y="1661.37">**</text>
<text font-size="33" text-anchor="middle" stroke="#0d0c0b" stroke-width="0.5" x="791.9" y="1671.87">*</text>
<text font-size="33" text-anchor="middle" stroke="#0d0c0b" stroke-width="0.5" x="814.9" y="1623.87">*</text>
<text font-size="36" textLength="38" lengthAdjust="spacingAndGlyphs" stroke="#0d0c0b" stroke-width="0.4" x="610.1" y="1696.8">ns</text>
<text font-size="36" textLength="38" lengthAdjust="spacingAndGlyphs" stroke="#0d0c0b" stroke-width="0.4" x="623.8" y="1655.6">ns</text>
<text font-size="34" font-weight="bold" text-anchor="middle" textLength="99.5" lengthAdjust="spacingAndGlyphs" stroke="#0d0c0b" stroke-width="0.35" x="312.8" y="2013.2">DMSO</text>
<text font-size="34" font-weight="bold" text-anchor="middle" textLength="70" lengthAdjust="spacingAndGlyphs" stroke="#0d0c0b" stroke-width="0.35" x="480" y="2013.2">PCN</text>
<text font-size="34" font-weight="bold" text-anchor="middle" textLength="150" lengthAdjust="spacingAndGlyphs" stroke="#0d0c0b" stroke-width="0.35" x="646.3" y="2013.2">PCN+JQ1</text>
<text font-size="34" font-weight="bold" text-anchor="middle" textLength="161.5" lengthAdjust="spacingAndGlyphs" stroke="#0d0c0b" stroke-width="0.35" x="813.4" y="2013.2">PCN+NAC</text>
</g>
</svg>
</body>
</html>
